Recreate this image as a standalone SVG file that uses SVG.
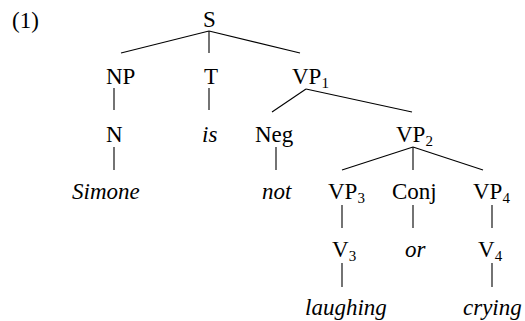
<svg xmlns="http://www.w3.org/2000/svg" width="525" height="321" viewBox="0 0 525 321">
<style>
text{font-family:"Liberation Serif","Times New Roman",serif;font-size:23px;fill:#000}
.i{font-style:italic}
.sub{font-size:15px}
#connectors line{stroke:#000;stroke-width:1.1}
</style>
<rect width="525" height="321" fill="#fff"/>
<text x="12" y="28">(1)</text>
<g id="connectors">
<line x1="209" y1="31" x2="121" y2="53"/>
<line x1="209" y1="31" x2="209" y2="53"/>
<line x1="209" y1="31" x2="300" y2="53"/>
<line x1="114" y1="88" x2="114" y2="110"/>
<line x1="209" y1="88" x2="209" y2="110"/>
<line x1="306" y1="89" x2="272" y2="112"/>
<line x1="306" y1="89" x2="412" y2="112"/>
<line x1="114" y1="147" x2="114" y2="170"/>
<line x1="276" y1="147" x2="276" y2="170"/>
<line x1="413" y1="147" x2="342" y2="170"/>
<line x1="413" y1="147" x2="413" y2="170"/>
<line x1="413" y1="147" x2="483" y2="170"/>
<line x1="342" y1="205" x2="342" y2="228"/>
<line x1="413" y1="205" x2="413" y2="228"/>
<line x1="492" y1="205" x2="492" y2="228"/>
<line x1="342" y1="263" x2="342" y2="287"/>
<line x1="492" y1="263" x2="492" y2="287"/>
</g>
<g id="S"><text x="203" y="27">S</text></g>
<g id="NP"><text x="106" y="84">NP</text></g>
<g id="T"><text x="204" y="84">T</text></g>
<g id="VP1"><text x="292" y="84">VP<tspan class="sub" dy="4">1</tspan></text></g>
<g id="N"><text x="106" y="142">N</text></g>
<g id="is"><text class="i" x="202" y="142">is</text></g>
<g id="Neg"><text x="255" y="142">Neg</text></g>
<g id="VP2"><text x="396" y="142">VP<tspan class="sub" dy="4">2</tspan></text></g>
<g id="Simone"><text class="i" x="72" y="199">Simone</text></g>
<g id="not"><text class="i" x="262" y="199">not</text></g>
<g id="VP3"><text x="328" y="199">VP<tspan class="sub" dy="4">3</tspan></text></g>
<g id="Conj"><text x="392" y="199">Conj</text></g>
<g id="VP4"><text x="473" y="199">VP<tspan class="sub" dy="4">4</tspan></text></g>
<g id="V3"><text x="332" y="257">V<tspan class="sub" dy="4">3</tspan></text></g>
<g id="or"><text class="i" x="405" y="257">or</text></g>
<g id="V4"><text x="478" y="257">V<tspan class="sub" dy="4">4</tspan></text></g>
<g id="laughing"><text class="i" x="305" y="315">laughing</text></g>
<g id="crying"><text class="i" x="463" y="315">crying</text></g>
</svg>
